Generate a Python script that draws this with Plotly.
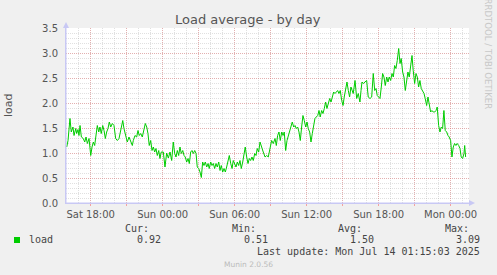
import pandas as pd
import plotly.graph_objects as go

# ---- data ----
# hours relative to Sun 2025-07-13 00:00
hours = [
    -8.00, -7.89, -7.73, -7.62, -7.48, -7.39, -7.25, -7.17, -7.06, -6.98, -6.89, -6.78, -6.62, -6.50,
    -6.39, -6.28, -6.14, -6.00, -5.89, -5.78, -5.67, -5.56, -5.45, -5.33, -5.23, -5.12, -5.00, -4.89,
    -4.78, -4.67, -4.56, -4.45, -4.33, -4.20, -4.06, -3.92, -3.78, -3.64, -3.50, -3.33, -3.23, -3.08,
    -2.95, -2.81, -2.67, -2.53, -2.45, -2.31, -2.17, -2.06, -1.95, -1.83, -1.70, -1.56, -1.45, -1.33,
    -1.23, -1.12, -1.00, -0.89, -0.78, -0.67, -0.56, -0.45, -0.33, -0.23, -0.12,
    0.05, 0.19, 0.33, 0.47, 0.61, 0.75, 0.88, 1.00, 1.11, 1.22, 1.33, 1.44, 1.55, 1.67, 1.78, 1.88,
    2.00, 2.11, 2.22, 2.33, 2.44, 2.55, 2.67, 2.78, 2.88, 3.00, 3.11, 3.22, 3.33, 3.44, 3.55, 3.67,
    3.78, 3.88, 4.00, 4.11, 4.22, 4.33, 4.44, 4.55, 4.67, 4.78, 4.88, 5.00, 5.11, 5.22, 5.33, 5.44,
    5.55, 5.67, 5.78, 5.88, 6.00, 6.11, 6.22, 6.33, 6.44, 6.55, 6.67, 6.78, 6.88, 7.00, 7.11, 7.22,
    7.33, 7.44, 7.55, 7.67, 7.78, 7.88, 8.00, 8.11,
    8.25, 8.38, 8.53, 8.67, 8.80, 8.94, 9.08, 9.22, 9.36, 9.47, 9.58, 9.69, 9.80, 9.92, 10.03, 10.13,
    10.25, 10.36, 10.47, 10.58, 10.69, 10.80, 10.92, 11.03, 11.13, 11.25, 11.36, 11.47, 11.58, 11.69,
    11.80, 11.92, 12.03, 12.13, 12.25, 12.36, 12.47, 12.58, 12.69, 12.80, 12.92, 13.03, 13.13, 13.25,
    13.36, 13.47, 13.58, 13.69, 13.80, 13.92, 14.03, 14.13, 14.25, 14.36, 14.47, 14.58, 14.69, 14.80,
    14.92, 15.03, 15.13, 15.25, 15.36, 15.47, 15.58,
    15.69, 15.80, 15.88, 16.03, 16.17, 16.30, 16.44, 16.53, 16.61, 16.72, 16.86, 17.00, 17.13, 17.28,
    17.42, 17.55, 17.67, 17.78, 17.88, 18.00, 18.11, 18.22, 18.33, 18.44, 18.55, 18.67, 18.78, 18.88,
    19.00, 19.11, 19.22, 19.33, 19.44, 19.55, 19.67, 19.78, 19.88, 20.00, 20.11, 20.22, 20.33, 20.44,
    20.55, 20.67, 20.78, 20.88, 21.00, 21.11, 21.22, 21.33, 21.44, 21.55, 21.67, 21.78, 21.88, 22.00,
    22.11, 22.22, 22.33, 22.44, 22.55, 22.67, 22.78, 22.88, 23.00, 23.11, 23.22, 23.33, 23.44, 23.55,
    23.67, 23.78, 23.88, 24.00, 24.11, 24.22, 24.33, 24.44, 24.55, 24.67, 24.78, 24.88, 25.00, 25.11,
    25.17, 25.25,
]
load = [
    1.12, 1.25, 1.69, 1.42, 1.52, 1.35, 1.49, 1.39, 1.47, 1.35, 1.55, 1.32, 1.29, 1.22,
    1.32, 1.19, 1.29, 0.95, 1.12, 1.22, 1.15, 1.39, 1.55, 1.42, 1.52, 1.39, 1.55, 1.45,
    1.29, 1.42, 1.49, 1.62, 1.52, 1.59, 1.55, 1.29, 1.25, 1.29, 1.45, 1.65, 1.49, 1.35,
    1.22, 1.32, 1.22, 1.15, 1.25, 1.35, 1.32, 1.45, 1.35, 1.39, 1.32, 1.45, 1.59, 1.52,
    1.39, 1.15, 1.25, 1.05, 1.12, 1.02, 1.09, 0.95, 1.05, 0.89, 1.02,
    1.02, 0.72, 1.00, 0.90, 1.02, 0.85, 1.22, 0.99, 0.92, 1.05, 0.95, 1.12, 0.99, 1.05, 0.95, 0.92,
    0.82, 0.89, 0.79, 1.02, 1.05, 0.99, 1.05, 0.99, 0.72, 0.69, 0.62, 0.51, 0.82, 0.75, 0.82, 0.72,
    0.79, 0.69, 0.82, 0.75, 0.79, 0.69, 0.79, 0.72, 0.82, 0.65, 0.75, 0.62, 0.69, 0.62, 0.72, 0.82,
    0.95, 0.79, 0.69, 0.85, 0.79, 0.72, 0.82, 0.75, 0.85, 0.69, 0.82, 0.99, 1.12, 0.92, 0.79, 0.89,
    0.85, 0.92, 0.85, 0.99, 0.95, 1.09, 1.02, 1.22,
    1.09, 1.02, 0.92, 0.95, 0.92, 1.09, 1.25, 1.19, 1.29, 1.15, 1.35, 1.42, 1.25, 1.42, 1.35, 1.42,
    1.05, 1.25, 1.35, 1.42, 1.52, 1.62, 1.52, 1.55, 1.49, 1.52, 1.42, 1.25, 1.52, 1.75,
    1.65, 1.52, 1.62, 1.49, 1.42, 1.22, 1.39, 1.55, 1.69, 1.72, 1.75, 1.85, 1.72, 1.85,
    1.79, 1.89, 2.02, 1.89, 1.99, 2.09, 2.02, 2.12, 2.22, 2.19, 2.22, 2.25, 2.19, 2.25,
    2.05, 1.95, 2.12, 2.29, 2.42, 2.25, 2.12,
    2.32, 2.22, 2.19, 2.45, 2.09, 2.19, 2.02, 2.25, 2.42, 2.39, 2.42, 2.45, 2.12, 2.09,
    2.12, 2.59, 2.25, 2.29, 2.15, 2.12, 2.09, 2.32, 2.59, 2.52, 2.35, 2.52, 2.42, 2.52,
    2.45, 2.59, 2.52, 2.75, 2.69, 2.85, 3.09, 2.79, 2.89, 2.62, 2.52, 2.25, 2.45, 2.62,
    2.52, 2.72, 2.95, 2.65, 2.39, 2.59, 2.52, 2.32, 2.45, 2.29, 2.25, 2.19, 2.09, 1.95,
    2.12, 1.92, 1.82, 1.85, 1.82, 1.82, 1.85, 1.92, 1.55, 1.42, 1.52, 1.49, 1.85, 1.45,
    1.42, 1.35, 1.32, 1.25, 0.92, 1.12, 1.19, 1.15, 1.19, 1.15, 1.09, 0.92, 0.89, 0.99,
    1.15, 0.92,
]
base_time = "2025-07-13 00:00"
x_range_hours = [-8.06, 25.53]
tick_hours = [-6, -3, 0, 3, 6, 9, 12, 15, 18, 21, 24]
tick_labels = ["Sat 18:00", "", "Sun 00:00", "", "Sun 06:00", "", "Sun 12:00", "",
               "Sun 18:00", "", "Mon 00:00"]
y_ticks = [0.0, 0.5, 1.0, 1.5, 2.0, 2.5, 3.0, 3.5]
stat_names = ["Cur:", "Min:", "Avg:", "Max:"]
stat_values = ["0.92", "0.51", "1.50", "3.09"]
series_name = "load"
title = "Load average - by day"
last_update = "Last update: Mon Jul 14 01:15:03 2025"

# ---- build ----
b = pd.Timestamp(base_time)
to_t = lambda h: b + pd.to_timedelta(h, unit="h")
times = [to_t(h) for h in hours]

W, H = 497, 275
L, R, T, B = 66, 469, 28, 203
PW, PH = R - L, B - T
fx = lambda px: (px - L) / PW
fy = lambda py: (B - py) / PH

GREEN = "#00CC00"
RED_GRID = "rgba(230,110,110,0.42)"
GRAY_GRID = "rgba(160,160,160,0.32)"
AXIS = "#C8C8F4"
TXT = "#555555"

fig = go.Figure()
fig.add_trace(go.Scatter(x=times, y=load, mode="lines", name=series_name,
                         line=dict(color=GREEN, width=1), hoverinfo="skip"))

fig.update_layout(
    width=W, height=H,
    margin=dict(l=L, r=W - R, t=T, b=H - B),
    paper_bgcolor="#F0F0F0", plot_bgcolor="#FFFFFF",
    showlegend=False,
    font=dict(family="DejaVu Sans", size=10, color=TXT),
)
fig.update_xaxes(
    type="date",
    range=[to_t(x_range_hours[0]), to_t(x_range_hours[1])],
    tickmode="array", tickvals=[to_t(h) for h in tick_hours], ticktext=tick_labels,
    showgrid=True, gridcolor=RED_GRID, griddash="1px,1px", gridwidth=1,
    ticks="outside", ticklen=2, tickcolor="#F4A0A0",
    minor=dict(dtick=3600000, tick0=base_time, showgrid=True, gridcolor=GRAY_GRID,
               griddash="1px,1px", ticks=""),
    showline=True, linecolor=AXIS, linewidth=1, zeroline=False,
    tickfont=dict(size=10, color=TXT, family="DejaVu Sans"),
    fixedrange=True,
)
fig.update_yaxes(
    range=[0, 3.5], tickmode="array", tickvals=y_ticks,
    ticktext=[f"{v:.1f}" for v in y_ticks],
    showgrid=True, gridcolor=RED_GRID, griddash="1px,1px", gridwidth=1,
    minor=dict(dtick=0.1, tick0=0, showgrid=True, gridcolor=GRAY_GRID, griddash="1px,1px", ticks=""),
    showline=True, linecolor=AXIS, linewidth=1, zeroline=False,
    ticks="", ticklabelstandoff=5,
    tickfont=dict(size=10, color=TXT, family="DejaVu Sans"),
    fixedrange=True,
)

# axis arrows
fig.add_shape(type="path", xref="paper", yref="paper",
              path=f"M {fx(63)} {fy(28)} L {fx(69)} {fy(28)} L {fx(66)} {fy(22)} Z",
              fillcolor=AXIS, line=dict(width=0))
fig.add_shape(type="path", xref="paper", yref="paper",
              path=f"M {fx(469)} {fy(200)} L {fx(469)} {fy(206)} L {fx(475)} {fy(203)} Z",
              fillcolor=AXIS, line=dict(width=0))
fig.add_shape(type="line", xref="paper", yref="paper", x0=fx(66), x1=fx(66), y0=fy(203), y1=fy(24),
              line=dict(color=AXIS, width=1))
fig.add_shape(type="line", xref="paper", yref="paper", x0=fx(66), x1=fx(473), y0=fy(203), y1=fy(203),
              line=dict(color=AXIS, width=1))

def ann(text, px, py, size=10, color=TXT, family="DejaVu Sans", xanchor="center", angle=0):
    fig.add_annotation(text=text, x=fx(px), y=fy(py), xref="paper", yref="paper",
                       showarrow=False, xanchor=xanchor, yanchor="middle",
                       font=dict(size=size, color=color, family=family), textangle=angle)

ann(title, 248, 19, size=13, color=TXT)
ann(series_name, 9, 105, size=11, color=TXT, angle=-90)
ann("RRDTOOL / TOBI OETIKER", 487.5, 54, size=8.6, color="#C8C8C8", angle=90)

MONO = "DejaVu Sans Mono"
name_ends = [151, 258, 364, 471]
val_ends = [163, 270, 376, 482]
for nm, v, ne, ve in zip(stat_names, stat_values, name_ends, val_ends):
    ann(nm, ne, 228, size=10, family=MONO, xanchor="right", color="#444444")
    ann(v, ve, 239.5, size=10, family=MONO, xanchor="right", color="#444444")
ann(series_name, 27, 239.5, size=10, family=MONO, xanchor="left", color="#444444")
ann(last_update, 482, 251, size=10, family=MONO, xanchor="right", color="#444444")
ann("Munin 2.0.56", 248, 264.5, size=7.5, color="#BBBBBB")

fig.add_shape(type="rect", xref="paper", yref="paper",
              x0=fx(14), x1=fx(20), y0=fy(243), y1=fy(237),
              fillcolor=GREEN, line=dict(width=0))

fig.write_html("out.html")
